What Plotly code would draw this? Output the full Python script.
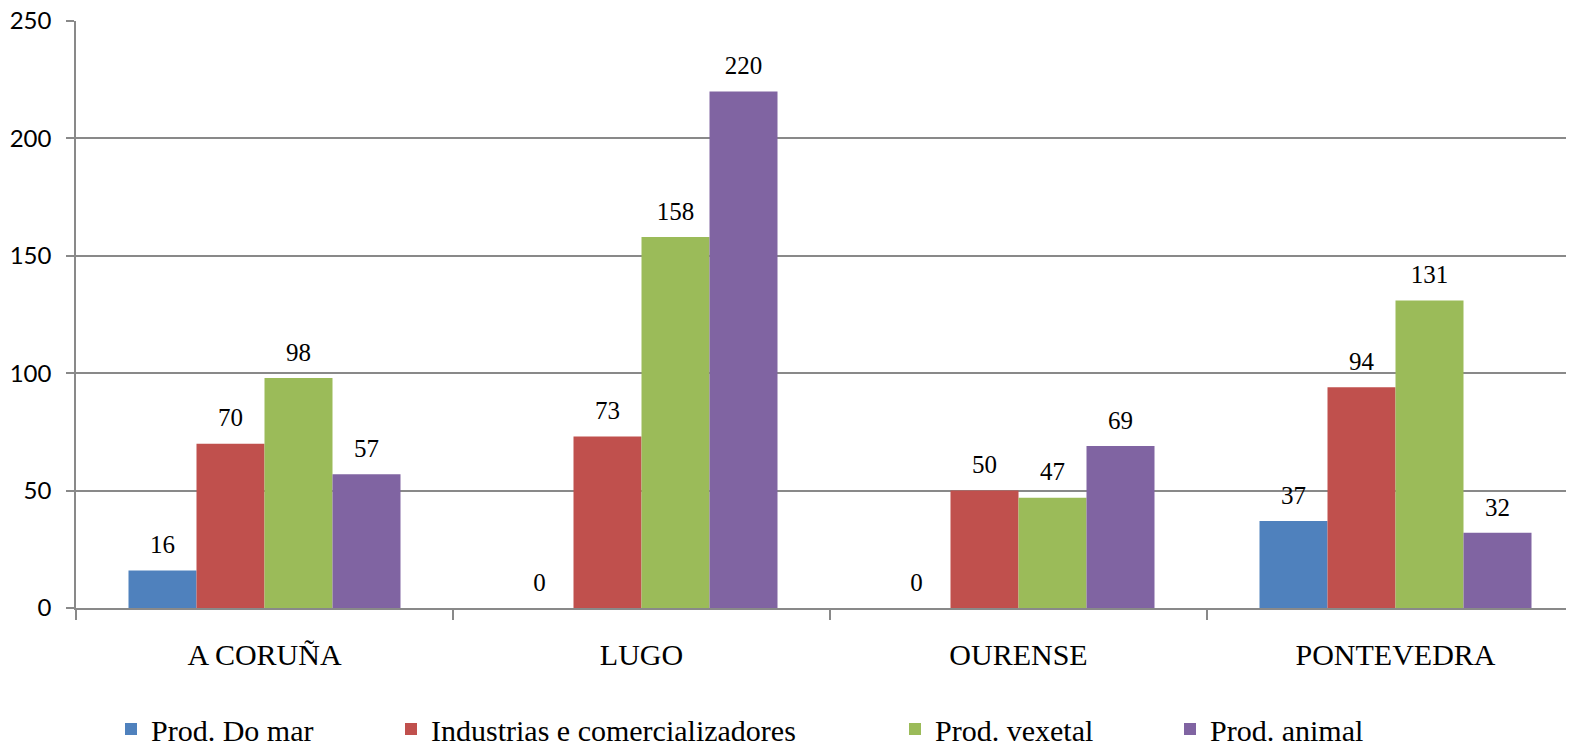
import plotly.graph_objects as go

categories = ["A CORUÑA", "LUGO", "OURENSE", "PONTEVEDRA"]
series_names = ["Prod. Do mar", "Industrias e comercializadores", "Prod. vexetal", "Prod. animal"]
prod_do_mar = [16, 0, 0, 37]
industrias = [70, 73, 50, 94]
prod_vexetal = [98, 158, 47, 131]
prod_animal = [57, 220, 69, 32]
y_ticks = [0, 50, 100, 150, 200, 250]

colors = ["#4F81BD", "#C0504D", "#9BBB59", "#8064A2"]
legend_x_px = [103, 383, 887, 1162]
series = [prod_do_mar, industrias, prod_vexetal, prod_animal]

W, H = 1574, 743
fig = go.Figure()
legend_keys = ["legend", "legend2", "legend3", "legend4"]
for i, (name, vals) in enumerate(zip(series_names, series)):
    fig.add_trace(go.Bar(
        x=categories, y=vals, name=name,
        marker=dict(color=colors[i], line=dict(width=0)),
        offsetgroup=str(i), legend=legend_keys[i],
        hoverinfo="x+y+name",
    ))
for i, (name, vals) in enumerate(zip(series_names, series)):
    fig.add_trace(go.Scatter(
        x=categories, y=vals, mode="markers+text",
        text=[str(v) for v in vals], textposition="top center",
        textfont=dict(family="Liberation Serif", size=25, color="#000000"),
        marker=dict(size=16, color="rgba(0,0,0,0)"),
        offsetgroup=str(i), showlegend=False, hoverinfo="skip",
        cliponaxis=False,
    ))

layout_legends = {}
for i, key in enumerate(legend_keys):
    layout_legends[key] = dict(
        x=legend_x_px[i] / W, y=(H - 721) / H, xref="container", yref="container",
        xanchor="left", yanchor="middle", orientation="h",
        font=dict(family="Liberation Serif", size=30, color="#000000"),
        bgcolor="rgba(0,0,0,0)", borderwidth=0,
    )

L, T, B, R = 68, 13, 143, 0
fig.update_layout(
    width=W, height=H,
    margin=dict(l=L, r=R, t=T, b=B, autoexpand=False),
    paper_bgcolor="white", plot_bgcolor="white",
    barmode="group", bargap=0.2785, bargroupgap=0,
    scattermode="group", scattergap=0.2785,
    **layout_legends,
)
fig.update_xaxes(
    type="category", range=[-0.5, -0.5 + (W - L - R) / 377], automargin=False,
    showline=True, linecolor="#898989", linewidth=1.5,
    ticks="outside", tickson="boundaries", ticklen=10, tickcolor="#898989", tickwidth=1.5,
    tickfont=dict(family="Liberation Serif", size=30, color="#000000"),
    showgrid=False, zeroline=False, ticklabelstandoff=19,
)
fig.update_yaxes(
    range=[0, 250], tickvals=y_ticks, automargin=False, ticklabeloverflow="allow",
    showline=True, linecolor="#898989", linewidth=1.5,
    ticks="outside", ticklen=8, tickcolor="#898989", tickwidth=1.5,
    tickfont=dict(family="Lato", size=24, color="#000000"),
    showgrid=True, gridcolor="#898989", gridwidth=1.5, zeroline=False,
    ticklabelstandoff=10,
)
fig.write_html("out.html")
